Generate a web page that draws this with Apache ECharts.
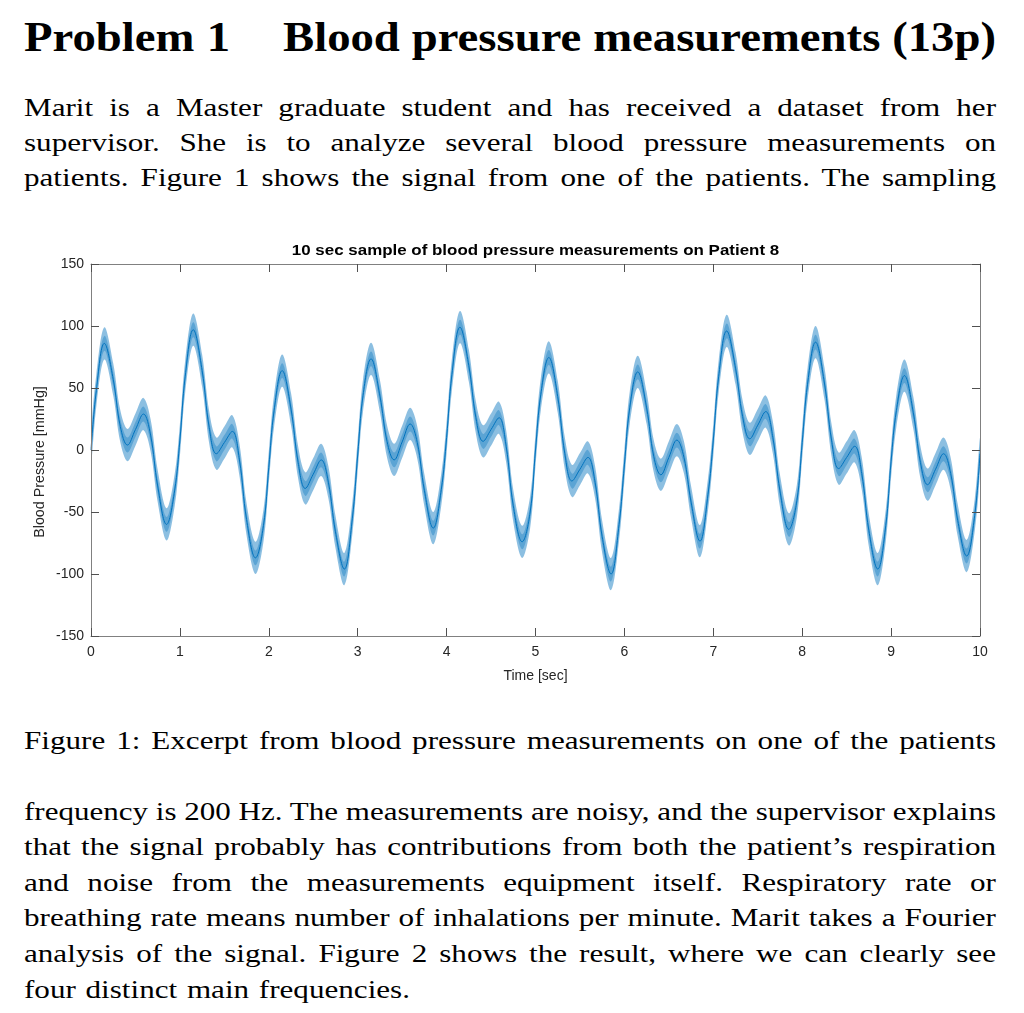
<!DOCTYPE html>
<html>
<head>
<meta charset="utf-8">
<script src="https://cdn.jsdelivr.net/npm/echarts@6/dist/echarts.min.js"></script>
<style>
html,body{margin:0;padding:0;background:#fff;width:1024px;height:1013px;overflow:hidden;}
.t{position:absolute;font-family:'Liberation Serif','Times New Roman',serif;font-size:25.5px;line-height:1;color:#000;white-space:nowrap;transform-origin:0 0;}
.h{font-weight:bold;font-size:42px;}
#chart{position:absolute;left:0;top:230px;width:1024px;height:470px;}
</style>
</head>
<body>
<div class="t h" data-x="24" data-w="206" data-b="50.7" data-exact="1">Problem 1</div>
<div class="t h" data-x="283" data-w="713" data-b="50.7" data-exact="1">Blood pressure measurements (13p)</div>

<div class="t" data-x="24" data-w="972" data-b="116">Marit is a Master graduate student and has received a dataset from her</div>
<div class="t" data-x="24" data-w="972" data-b="151.7">supervisor.  She is to analyze several blood pressure measurements on</div>
<div class="t" data-x="24" data-w="972" data-b="186.7">patients. Figure 1 shows the signal from one of the patients. The sampling</div>

<div id="chart"></div>

<div class="t" data-x="24" data-w="972" data-b="749.3">Figure 1: Excerpt from blood pressure measurements on one of the patients</div>

<div class="t" data-x="24" data-w="972" data-b="820">frequency is 200 Hz.  The measurements are noisy, and the supervisor explains</div>
<div class="t" data-x="24" data-w="972" data-b="855.5">that the signal probably has contributions from both the patient’s respiration</div>
<div class="t" data-x="24" data-w="972" data-b="891.5">and noise from the measurements equipment itself.  Respiratory rate or</div>
<div class="t" data-x="24" data-w="972" data-b="926.7">breathing rate means number of inhalations per minute.  Marit takes a Fourier</div>
<div class="t" data-x="24" data-w="972" data-b="962.3">analysis of the signal.  Figure 2 shows the result, where we can clearly see</div>
<div class="t" data-x="24" data-w="386" data-b="998.3">four distinct main frequencies.</div>

<script>
// ---- data ----
const chartTitle = '10 sec sample of blood pressure measurements on Patient 8';
const xAxisName = 'Time [sec]';
const yAxisName = 'Blood Pressure [mmHg]';
const xTickValues = [0, 1, 2, 3, 4, 5, 6, 7, 8, 9, 10];
const yTickValues = [-150, -100, -50, 0, 50, 100, 150];

// sample times (s) and centre of the noisy trace (mmHg)
const tSec = [
  0, 0.06, 0.15, 0.25, 0.33, 0.41, 0.5, 0.59, 0.67, 0.75, 0.85, 0.94,
  1, 1.06, 1.15, 1.25, 1.33, 1.41, 1.5, 1.59, 1.67, 1.75, 1.85, 1.94,
  2, 2.06, 2.15, 2.25, 2.33, 2.41, 2.5, 2.59, 2.67, 2.75, 2.85, 2.94,
  3, 3.06, 3.15, 3.25, 3.33, 3.41, 3.5, 3.59, 3.67, 3.75, 3.85, 3.94,
  4, 4.06, 4.15, 4.25, 4.33, 4.41, 4.5, 4.59, 4.67, 4.75, 4.85, 4.94,
  5, 5.06, 5.15, 5.25, 5.33, 5.41, 5.5, 5.59, 5.67, 5.75, 5.85, 5.94,
  6, 6.06, 6.15, 6.25, 6.33, 6.41, 6.5, 6.59, 6.67, 6.75, 6.85, 6.94,
  7, 7.06, 7.15, 7.25, 7.33, 7.41, 7.5, 7.59, 7.67, 7.75, 7.85, 7.94,
  8, 8.06, 8.15, 8.25, 8.33, 8.41, 8.5, 8.59, 8.67, 8.75, 8.85, 8.94,
  9, 9.06, 9.15, 9.25, 9.33, 9.41, 9.5, 9.59, 9.67, 9.75, 9.85, 9.94,
  10
];
const bpMid = [
  0, 48, 86, 57, 19, 4, 16.5, 29, 12, -29, -60, -33,
  8, 59.5, 97, 64, 18, -3, 6, 15, -8, -56, -87, -61,
  -14, 32, 64, 33, -10, -31, -19.5, -8, -26, -66, -96, -55,
  -4, 44, 73.5, 43.5, 7, -8, 6.5, 21, 6, -32.5, -63, -32,
  10, 61, 99, 68, 26, 7, 16.5, 26, 3, -45, -74, -50,
  0, 45, 74.6, 43, -3, -25, -15.5, -6, -26, -70, -100, -60,
  -12, 34, 63, 34, -5, -20, -6, 8, -6, -42, -73.5, -36,
  8, 59, 96, 66, 27, 9, 20, 31, 10, -33, -64, -41,
  6, 53, 87, 54, 8, -15, -6, 3, -19, -65, -96, -61,
  -9, 32, 60, 30, -10, -28, -15.5, -3, -19, -57, -85.5, -53,
  -3
];
// half-height of the high-frequency noise band (mmHg)
const noiseHalfOuter = 13;
const noiseHalfCore = 6;

// ---- text layout (fit LaTeX-like lines) ----
document.querySelectorAll('.t').forEach(function (el) {
  const F = parseFloat(getComputedStyle(el).fontSize);
  const x = +el.dataset.x, W = +el.dataset.w, b = +el.dataset.b;
  el.style.left = x + 'px';
  el.style.top = (b - 0.8375 * F) + 'px';
  const w = el.getBoundingClientRect().width;
  let s = W / (w + 0.5);
  if (!el.dataset.exact) s = Math.min(s, 1.22);
  el.style.whiteSpace = 'normal';
  el.style.width = (W / s) + 'px';
  el.style.textAlign = 'justify';
  el.style.textAlignLast = 'justify';
  el.style.transform = 'scaleX(' + s + ')';
});

// ---- chart ----
const BLUE = '#0072BD';
const xMin = xTickValues[0], xMax = xTickValues[xTickValues.length - 1];
const yMin = yTickValues[0], yMax = yTickValues[yTickValues.length - 1];
const xStep = xTickValues[1] - xTickValues[0];
const yStep = yTickValues[1] - yTickValues[0];
const FONT = '"Liberation Sans", Arial, sans-serif';
const labelFont = { color: '#262626', fontSize: 14, fontFamily: FONT };
const lineCol = '#808080';

function axisBase(min, max, step, showLabel) {
  return {
    type: 'value', min: min, max: max, interval: step, z: 10,
    axisLine: { show: true, onZero: false, lineStyle: { color: lineCol, width: 1 } },
    axisTick: { show: true, inside: true, length: 8, lineStyle: { color: '#505050', width: 1 } },
    axisLabel: Object.assign({ show: showLabel }, labelFont),
    splitLine: { show: false }
  };
}

const xBottom = Object.assign(axisBase(xMin, xMax, xStep, true), {
  position: 'bottom', name: xAxisName, nameLocation: 'middle', nameGap: 33,
  nameTextStyle: Object.assign({}, labelFont)
});
xBottom.axisLabel.margin = 9;
const xTop = Object.assign(axisBase(xMin, xMax, xStep, false), { position: 'top' });
const yLeft = Object.assign(axisBase(yMin, yMax, yStep, true), { position: 'left' });
yLeft.axisLabel.margin = 7;
const yRight = Object.assign(axisBase(yMin, yMax, yStep, false), { position: 'right' });

const midData = tSec.map((t, i) => [t, bpMid[i]]);

function bandSeries(half, opacity) {
  return {
    type: 'custom', coordinateSystem: 'cartesian2d', xAxisIndex: 0, yAxisIndex: 0,
    data: midData, silent: true, animation: false, z: 2,
    renderItem: function (params, api) {
      if (params.dataIndex !== 0) return null;
      const up = [], lo = [];
      for (let i = 0; i < tSec.length; i++) {
        up.push(api.coord([tSec[i], bpMid[i] + half]));
        lo.push(api.coord([tSec[i], bpMid[i] - half]));
      }
      const cs = params.coordSys;
      return {
        type: 'group',
        clipPath: { type: 'rect', shape: { x: cs.x, y: cs.y, width: cs.width, height: cs.height } },
        children: [{
          type: 'polygon',
          shape: { points: up.concat(lo.reverse()), smooth: 0.35 },
          style: { fill: BLUE, opacity: opacity }
        }]
      };
    }
  };
}

const chart = echarts.init(document.getElementById('chart'), null, { renderer: 'canvas' });
chart.setOption({
  animation: false,
  grid: { left: 91, right: 44, top: 34, bottom: 64, containLabel: false },
  xAxis: [xBottom, xTop],
  yAxis: [yLeft, yRight],
  graphic: [
    {
      type: 'text', x: 535.5, y: 21, scaleX: 1.1,
      style: { text: chartTitle, textAlign: 'center', textVerticalAlign: 'middle',
        font: 'bold 15.4px ' + FONT, fill: '#000' }
    },
    {
      type: 'text', x: 40, y: 232, rotation: Math.PI / 2, scaleX: 1.02,
      style: { text: yAxisName, textAlign: 'center', textVerticalAlign: 'middle',
        font: '14px ' + FONT, fill: '#262626' }
    }
  ],
  series: [
    bandSeries(noiseHalfOuter, 0.45),
    bandSeries(noiseHalfCore, 0.35),
    {
      type: 'line', data: midData, smooth: 0.4, symbol: 'none', silent: true, animation: false, z: 3,
      lineStyle: { color: BLUE, width: 1 }
    }
  ]
});
</script>
</body>
</html>
